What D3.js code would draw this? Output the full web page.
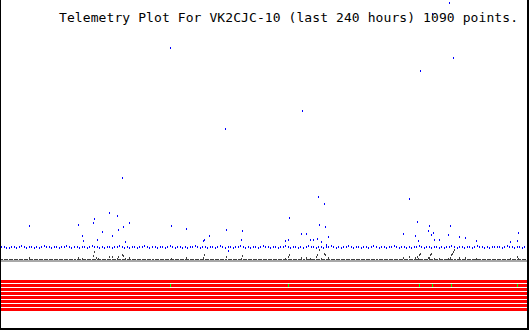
<!DOCTYPE html>
<meta charset="utf-8">
<style>
  body { margin: 0; background: #fff; }
  svg { display: block; shape-rendering: crispEdges; }
  text { font-family: "DejaVu Sans Mono", "Liberation Mono", monospace; font-size: 13px; }
</style>
<svg width="530" height="330"></svg>
<script src="https://d3js.org/d3.v7.min.js"></script>
<script>

var title = "Telemetry Plot For VK2CJC-10 (last 240 hours) 1090 points.";

var hoursShown = 240,
    numBits = 8;

// blue channel, the regular readings (oldest first)
var blueBase = [
  12,12,11,11,12,12,11,12,13,12,11,12,12,11,12,11,12,13,12,12,11,12,
  12,11,12,12,13,12,11,12,12,11,12,12,11,12,13,12,12,11,12,11,12,12,
  11,12,12,13,12,11,12,11,12,12,11,12,12,13,12,11,12,12,11,12,12,11,
  12,13,12,11,12,12,11,12,11,12,12,13,12,11,12,12,11,12,12,11,12,13,
  12,11,12,12,11,12,12,13,12,11,12,11,12,12,11,12,13,12,12,11,12,12,
  11,12,12,13,12,11,12,12,11,12,11,12,13,12,12,11,12,12,11,12,12,13,
  12,11,12,11,12,12,13,12,11,12,12,11,12,12,11,12,13,12,11,12,12,11,
  12,12,13,12,11,12,12,11,12,11,12,12,13,12,11,12,12,11,12,12,11,12,
  11,12,12,13,12,11,12,12,11,12,12,11,12,13,12,12,11,12,11,12,12,12,
  12,11,12,13,12,12,11,12,12,11,12,12
];

// blue channel, readings off the baseline [hour, value]
var blueSpikes = [
  [12.8,33],[35.1,34],[37.0,23],[37.4,18],[42.0,36],[42.4,40],[43.8,19],
  [46.1,27],[49.3,46],[50.6,23],[52.9,43],[53.4,29],[55.2,81],[55.7,32],
  [56.6,17],[58.4,36],[77.1,211],[77.6,33],[84.4,30],[92.2,18],[92.6,19],
  [94.9,23],[102.2,130],[102.7,29],[103.6,8],[109.5,19],[110.0,28],
  [129.6,18],[131.0,19],[131.4,41],[136.9,25],[137.3,148],[139.2,25],
  [141.0,19],[142.4,19],[144.2,20],[144.7,62],[145.1,34],[146.0,17],
  [147.4,55],[147.8,32],[148.3,14],[149.2,22],[183.4,25],[186.2,60],
  [188.9,23],[189.8,37],[190.3,18],[191.2,188],[194.8,28],[195.3,33],
  [196.2,24],[196.7,245],[197.1,26],[197.6,19],[199.8,19],[203.9,24],
  [204.4,256],[204.9,33],[206.2,201],[209.0,22],[211.7,21],[216.7,18],
  [232.2,17],[235.4,18],[235.9,26],[240.0,20]
];

// grey channel reads 0 at every regular sample; these are the other readings
var greyIdle = 0;
var greySpikes = [
  [12.8,2],[35.1,2],[37.0,1],[42.0,4],[42.4,8],[43.3,2],[44.3,1],[49.3,3],
  [50.6,3],[52.9,1],[53.4,3],[55.2,5],[55.7,4],[56.6,1],[58.4,2],[77.6,1],
  [84.4,2],[92.2,2],[92.6,5],[102.7,3],[109.5,1],[110.0,4],[129.6,1],
  [131.0,3],[131.4,5],[136.9,2],[139.2,2],[141.0,1],[143.7,3],[144.2,5],
  [145.1,10],[146.0,1],[147.4,6],[147.8,5],[149.2,2],[183.4,2],[186.2,3],
  [188.9,2],[189.8,3],[190.3,1],[190.7,5],[191.2,6],[194.8,2],[195.3,2],
  [195.7,5],[196.2,6],[197.6,1],[199.8,1],[203.9,1],[204.9,2],[205.3,5],
  [205.7,6],[206.2,8],[206.7,10],[209.0,2],[211.7,2],[216.7,1],[232.2,1],
  [235.4,3],[235.9,1],[240.0,2]
];

// digital bits: all off except these [bit, hour]
var bitsOn = [
  [1,77.1],[1,131.0],[1,190.7],[1,196.7],[1,205.3],[1,235.4]
];

var svg = d3.select("svg"),
    width = +svg.attr("width"),
    height = +svg.attr("height");

var x = d3.scaleLinear().domain([0, hoursShown]).range([1, 527]),
    y = d3.scaleLinear().domain([0, 257]).range([259, 2]),
    bitY = d3.scaleLinear().domain([0, numBits]).range([280, 312]);

var baseTimes = blueBase.map(function(d, i) { return i * hoursShown / (blueBase.length - 1); });

svg.append("rect").attr("width", width).attr("height", height).attr("fill", "#fff");

// bit bands
svg.append("g").selectAll("rect")
  .data(d3.range(numBits))
  .join("rect")
    .attr("x", x(0))
    .attr("y", function(d) { return bitY(d); })
    .attr("width", x(hoursShown) - x(0) + 1)
    .attr("height", 3)
    .attr("fill", "#ff0000");

svg.append("g").selectAll("rect")
  .data(bitsOn)
  .join("rect")
    .attr("x", function(d) { return Math.round(x(d[1])); })
    .attr("y", function(d) { return bitY(d[0]); })
    .attr("width", 1)
    .attr("height", 3)
    .attr("fill", "#00ff00");

// zero line
svg.append("rect")
  .attr("x", x(0)).attr("y", y(0) + 1)
  .attr("width", x(hoursShown) - x(0) + 1).attr("height", 2)
  .attr("fill", "#a8a8a8");

// grey channel
var grey = baseTimes.map(function(t) { return [t, greyIdle]; }).concat(greySpikes);
svg.append("g").selectAll("rect")
  .data(grey)
  .join("rect")
    .attr("x", function(d) { return Math.round(x(d[0])); })
    .attr("y", function(d) { return y(d[1]); })
    .attr("width", function(d) { return d[1] ? 1 : 2; })
    .attr("height", function(d) { return d[1] ? 2 : 1; })
    .attr("fill", "#404040");

// blue channel
var blue = baseTimes.map(function(t, i) { return [t, blueBase[i]]; }).concat(blueSpikes);
svg.append("g").selectAll("rect")
  .data(blue)
  .join("rect")
    .attr("x", function(d) { return Math.round(x(d[0])); })
    .attr("y", function(d) { return y(d[1]) - 1; })
    .attr("width", 1)
    .attr("height", 2)
    .attr("fill", "#0000ff");

// frame: left, right, bottom
svg.append("rect").attr("x", 0).attr("y", 0).attr("width", 1).attr("height", height).attr("fill", "#000");
svg.append("rect").attr("x", 527).attr("y", 0).attr("width", 2).attr("height", height).attr("fill", "#000");
svg.append("rect").attr("x", 0).attr("y", 328).attr("width", 529).attr("height", 2).attr("fill", "#000");

svg.append("text")
  .attr("x", 59)
  .attr("y", 22)
  .attr("fill", "#000")
  .attr("textLength", 459)
  .attr("lengthAdjust", "spacing")
  .text(title);

</script>
